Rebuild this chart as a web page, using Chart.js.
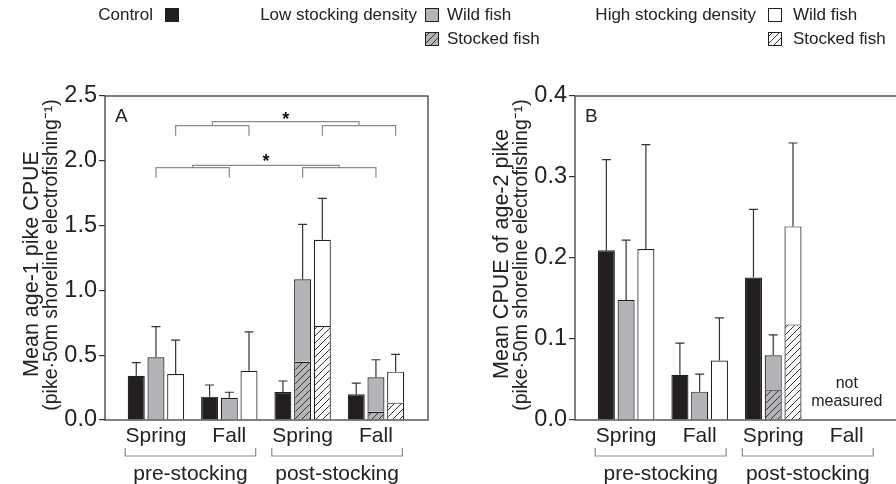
<!DOCTYPE html>
<html>
<head>
<meta charset="utf-8">
<script src="https://cdn.jsdelivr.net/npm/chart.js@4.4.1/dist/chart.umd.min.js"></script>
<style>
  html, body { margin: 0; padding: 0; background: #fff; overflow: hidden; width: 896px; height: 484px; }
  canvas { position: absolute; left: 0; top: 0; }
</style>
</head>
<body>
<canvas id="cpueB" width="910" height="484" style="width:910px;height:484px"></canvas>
<canvas id="cpueA" width="896" height="484" style="width:896px;height:484px"></canvas>
<script>
// ---- categories ----
const seasons = ['Spring', 'Fall', 'Spring', 'Fall'];
const periods = ['pre-stocking', 'post-stocking'];

// ---- panel A: age-1 pike CPUE (mean and upper SE) ----
const age1Control      = [0.342, 0.180, 0.216, 0.198];
const age1ControlErr   = [0.100, 0.090, 0.085, 0.087];
const age1LowTotal     = [0.484, 0.172, 1.086, 0.330];
const age1LowStocked   = [null, null, 0.450, 0.064];
const age1LowErr       = [0.236, 0.042, 0.424, 0.135];
const age1HighTotal    = [0.355, 0.380, 1.390, 0.373];
const age1HighStocked  = [null, null, 0.725, 0.134];
const age1HighErr      = [0.262, 0.300, 0.320, 0.134];
const age1Ticks        = [0, 0.5, 1.0, 1.5, 2.0, 2.5];

// ---- panel B: age-2 pike CPUE (fall post-stocking not measured) ----
const age2Control      = [0.2095, 0.0558, 0.176, null];
const age2ControlErr   = [0.112, 0.039, 0.084, null];
const age2LowTotal     = [0.148, 0.035, 0.080, null];
const age2LowStocked   = [null, null, 0.0377, null];
const age2LowErr       = [0.074, 0.0216, 0.025, null];
const age2HighTotal    = [0.211, 0.0735, 0.239, null];
const age2HighStocked  = [null, null, 0.118, null];
const age2HighErr      = [0.129, 0.0525, 0.103, null];
const age2Ticks        = [0, 0.1, 0.2, 0.3, 0.4];

const FONT = '"Liberation Sans", Arial, Helvetica, sans-serif';
const INK = '#231f20';
const GREY = '#b2b4b7';

function hatchPattern(ctx, bg) {
  const s = 7;
  const c = document.createElement('canvas');
  c.width = s; c.height = s;
  const g = c.getContext('2d');
  g.fillStyle = bg; g.fillRect(0, 0, s, s);
  g.strokeStyle = '#333'; g.lineWidth = 1;
  g.beginPath();
  g.moveTo(0, s); g.lineTo(s, 0);
  g.moveTo(-1, 1); g.lineTo(1, -1);
  g.moveTo(s - 1, s + 1); g.lineTo(s + 1, s - 1);
  g.stroke();
  return ctx.createPattern(c, 'repeat');
}

const pts = arr => arr.map((v, i) => ({ x: i, y: v }));
const wildPart = (total, stocked) => total.map((t, i) => t === null ? null : t - (stocked[i] || 0));

function buildDatasets(ctx, d) {
  const lowHatch = hatchPattern(ctx, GREY);
  const highHatch = hatchPattern(ctx, '#ffffff');
  const common = { borderColor: INK, borderWidth: 1.2, categoryPercentage: 0.806, barPercentage: 0.863 };
  return [
    { ...common, label: 'Control', stack: 'control', data: pts(d.control), backgroundColor: INK,
      errTotal: d.control, errSize: d.controlErr },
    { ...common, label: 'Low stocked', stack: 'low', data: pts(d.lowStocked), backgroundColor: lowHatch },
    { ...common, label: 'Low wild', stack: 'low', data: pts(wildPart(d.lowTotal, d.lowStocked)), backgroundColor: GREY,
      errTotal: d.lowTotal, errSize: d.lowErr },
    { ...common, label: 'High stocked', stack: 'high', data: pts(d.highStocked), backgroundColor: highHatch },
    { ...common, label: 'High wild', stack: 'high', data: pts(wildPart(d.highTotal, d.highStocked)), backgroundColor: '#ffffff',
      errTotal: d.highTotal, errSize: d.highErr }
  ];
}

// upper error whiskers with caps
const errorBars = {
  id: 'errorBars',
  afterDatasetsDraw(chart) {
    const { ctx, scales: { y } } = chart;
    ctx.save();
    ctx.strokeStyle = '#333';
    ctx.lineWidth = 1.2;
    chart.data.datasets.forEach((ds, di) => {
      if (!ds.errSize) return;
      const meta = chart.getDatasetMeta(di);
      ds.errSize.forEach((e, i) => {
        const t = ds.errTotal[i];
        if (e === null || t === null) return;
        const el = meta.data[i];
        const yTop = y.getPixelForValue(t);
        const yEnd = y.getPixelForValue(t + e);
        ctx.beginPath();
        ctx.moveTo(el.x, yTop); ctx.lineTo(el.x, yEnd);
        ctx.moveTo(el.x - 4.5, yEnd); ctx.lineTo(el.x + 4.5, yEnd);
        ctx.stroke();
      });
    });
    ctx.restore();
  }
};

// rotated two-line axis title, drawn left of the value axis
function drawAxisTitle(chart, lines) {
  const { ctx, chartArea: a } = chart;
  const cy = (a.top + a.bottom) / 2;
  ctx.save();
  ctx.fillStyle = '#222';
  ctx.textAlign = 'center';
  ctx.textBaseline = 'middle';
  lines.forEach(l => {
    ctx.save();
    ctx.translate(a.left - l.gap, cy + l.shift);
    ctx.rotate(-Math.PI / 2);
    ctx.font = l.size + 'px ' + FONT;
    ctx.fillText(l.text, 0, 0);
    ctx.restore();
  });
  ctx.restore();
}

// plot frame, panel letter, season-period brackets
function panelDecor(letter, titleLines, extra) {
  return {
    id: 'panelDecor' + letter,
    afterDraw(chart) {
      const { ctx, chartArea: a, scales: { x } } = chart;
      ctx.save();
      ctx.strokeStyle = '#3c3c3c';
      ctx.lineWidth = 1.3;
      ctx.strokeRect(a.left, a.top, a.right - a.left, a.bottom - a.top);

      drawAxisTitle(chart, titleLines);

      ctx.fillStyle = '#222';
      ctx.font = '19px ' + FONT;
      ctx.textAlign = 'left';
      ctx.textBaseline = 'alphabetic';
      ctx.fillText(letter, a.left + 10, a.top + 26);

      ctx.strokeStyle = '#8a8a8a';
      ctx.lineWidth = 1.2;
      ctx.font = '21px ' + FONT;
      ctx.textAlign = 'center';
      ctx.textBaseline = 'middle';
      periods.forEach((p, k) => {
        const x0 = x.getPixelForValue(2 * k - 0.42);
        const x1 = x.getPixelForValue(2 * k + 1.36);
        const yb = a.bottom + 36;
        ctx.beginPath();
        ctx.moveTo(x0, a.bottom + 28); ctx.lineTo(x0, yb); ctx.lineTo(x1, yb); ctx.lineTo(x1, a.bottom + 28);
        ctx.stroke();
        ctx.fillText(p, (x0 + x1) / 2, a.bottom + 54);
      });
      if (extra) extra(chart);
      ctx.restore();
    }
  };
}

// pairwise comparison brackets in panel A (data units on the y axis)
const comparisons = [
  { datasetIndex: 2, arm: 1.947, drop: 1.870, bridge: 1.965, star: 2.015 },
  { datasetIndex: 4, arm: 2.271, drop: 2.194, bridge: 2.302, star: 2.340 }
];

function drawComparisons(chart) {
  const { ctx, scales: { y } } = chart;
  ctx.strokeStyle = '#8a8a8a';
  ctx.lineWidth = 1.2;
  comparisons.forEach(c => {
    const els = chart.getDatasetMeta(c.datasetIndex).data;
    const ya = y.getPixelForValue(c.arm), yd = y.getPixelForValue(c.drop), yb = y.getPixelForValue(c.bridge);
    const mids = [];
    [[0, 1], [2, 3]].forEach(([i, j]) => {
      const xa = els[i].x, xb = els[j].x;
      ctx.beginPath();
      ctx.moveTo(xa, yd); ctx.lineTo(xa, ya); ctx.lineTo(xb, ya); ctx.lineTo(xb, yd);
      ctx.stroke();
      mids.push((xa + xb) / 2);
    });
    ctx.beginPath();
    ctx.moveTo(mids[0], ya); ctx.lineTo(mids[0], yb); ctx.lineTo(mids[1], yb); ctx.lineTo(mids[1], ya);
    ctx.stroke();
    ctx.fillStyle = '#111';
    ctx.font = 'bold 18px ' + FONT;
    ctx.textAlign = 'center';
    ctx.textBaseline = 'middle';
    ctx.fillText('*', (mids[0] + mids[1]) / 2, y.getPixelForValue(c.star) + 3);
  });
}

function swatch(ctx, x, y, fill) {
  ctx.fillStyle = fill;
  ctx.fillRect(x, y, 13, 13);
  ctx.strokeStyle = INK;
  ctx.lineWidth = 1;
  ctx.strokeRect(x + 0.5, y + 0.5, 13, 13);
}

// figure legend across the top
function drawLegend(chart) {
  const ctx = chart.ctx;
  const lowHatch = chart.data.datasets[1].backgroundColor;
  const highHatch = chart.data.datasets[3].backgroundColor;
  ctx.font = '17px ' + FONT;
  ctx.fillStyle = '#222';
  ctx.textBaseline = 'middle';
  ctx.textAlign = 'right';
  ctx.fillText('Control', 153, 15);
  ctx.fillText('Low stocking density', 417, 15);
  ctx.fillText('High stocking density', 756, 15);
  ctx.textAlign = 'left';
  ctx.fillText('Wild fish', 447, 15);
  ctx.fillText('Stocked fish', 447, 39);
  ctx.fillText('Wild fish', 793, 15);
  ctx.fillText('Stocked fish', 793, 39);
  swatch(ctx, 165, 8, INK);
  swatch(ctx, 425, 8, GREY);
  swatch(ctx, 425, 32, lowHatch);
  swatch(ctx, 768, 8, '#ffffff');
  swatch(ctx, 768, 32, highHatch);
}

function makePanel(canvasId, d, opts) {
  const canvas = document.getElementById(canvasId);
  const ctx = canvas.getContext('2d');
  return new Chart(ctx, {
    type: 'bar',
    data: { datasets: buildDatasets(ctx, d) },
    options: {
      responsive: false,
      animation: false,
      events: [],
      layout: { padding: opts.padding },
      plugins: { legend: { display: false }, tooltip: { enabled: false }, title: { display: false } },
      scales: {
        x: {
          type: 'linear', min: -0.695, max: 3.71, offset: false,
          afterBuildTicks: s => { s.ticks = seasons.map((_, i) => ({ value: i })); },
          afterFit: s => { s.height = 64; },
          ticks: { callback: v => seasons[v], autoSkip: false, maxRotation: 0, color: '#222',
                   font: { family: FONT, size: 21 }, padding: 4 },
          grid: { display: false, drawTicks: false },
          border: { display: false }
        },
        y: {
          min: 0, max: opts.max, stacked: true,
          afterBuildTicks: s => { s.ticks = opts.ticks.map(v => ({ value: v })); },
          afterFit: s => { s.width = 105; },
          ticks: { callback: v => v.toFixed(1), color: '#222', font: { family: FONT, size: 23.5 }, padding: 2 },
          grid: { drawOnChartArea: false, drawTicks: true, tickLength: 6, color: '#333', lineWidth: 1.2 },
          border: { display: false }
        }
      }
    },
    plugins: [errorBars, panelDecor(opts.letter, opts.titleLines, opts.extra)]
  });
}

makePanel('cpueA', {
  control: age1Control, controlErr: age1ControlErr,
  lowTotal: age1LowTotal, lowStocked: age1LowStocked, lowErr: age1LowErr,
  highTotal: age1HighTotal, highStocked: age1HighStocked, highErr: age1HighErr
}, {
  letter: 'A', max: 2.5, ticks: age1Ticks,
  padding: { top: 96, left: 0, right: 468, bottom: 0 },
  titleLines: [
    { text: 'Mean age-1 pike CPUE', size: 21.5, gap: 73, shift: 6 },
    { text: '(pike\u00b750m shoreline electrofishing\u207b\u00b9)', size: 19.5, gap: 53, shift: -3 }
  ],
  extra: chart => { drawComparisons(chart); drawLegend(chart); }
});

makePanel('cpueB', {
  control: age2Control, controlErr: age2ControlErr,
  lowTotal: age2LowTotal, lowStocked: age2LowStocked, lowErr: age2LowErr,
  highTotal: age2HighTotal, highStocked: age2HighStocked, highErr: age2HighErr
}, {
  letter: 'B', max: 0.4, ticks: age2Ticks,
  padding: { top: 96, left: 470, right: 11, bottom: 0 },
  titleLines: [
    { text: 'Mean CPUE of age-2 pike', size: 21.5, gap: 73, shift: -4 },
    { text: '(pike\u00b750m shoreline electrofishing\u207b\u00b9)', size: 19.5, gap: 53, shift: -3 }
  ],
  extra: chart => {
    const { ctx, scales: { x, y } } = chart;
    ctx.fillStyle = '#222';
    ctx.font = '16px ' + FONT;
    ctx.textAlign = 'center';
    ctx.textBaseline = 'middle';
    const xm = x.getPixelForValue(seasons.length - 1);
    ctx.fillText('not', xm, y.getPixelForValue(0.045));
    ctx.fillText('measured', xm, y.getPixelForValue(0.023));
  }
});
</script>
</body>
</html>
